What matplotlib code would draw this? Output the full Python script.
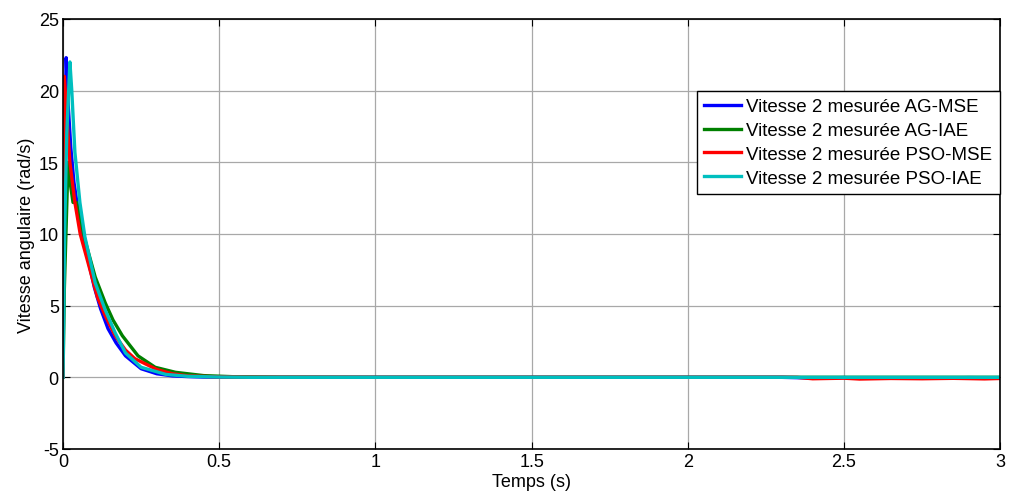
import matplotlib.pyplot as plt

plt.rcParams["font.family"] = ["Liberation Sans", "DejaVu Sans"]
plt.rcParams["axes.unicode_minus"] = False

# Vitesse 2 mesuree - AG-MSE
t_ag_mse = [0, 0.004, 0.01, 0.016, 0.025, 0.035, 0.05, 0.07, 0.1, 0.12, 0.144, 0.17, 0.2,
            0.25, 0.3, 0.35, 0.4, 0.45, 0.5, 0.6, 1.0, 2.3, 2.4, 2.5, 2.6, 2.7, 2.8, 2.9, 3.0]
v_ag_mse = [0, 12, 22.3, 19.2, 16.0, 13.6, 11.4, 9.2, 6.3, 4.8, 3.4, 2.4, 1.5,
            0.6, 0.25, 0.1, 0.05, 0.02, 0.01, 0.0, 0.0, 0.0, -0.05, -0.02, -0.06, -0.03, -0.05, -0.02, -0.04]

# Vitesse 2 mesuree - AG-IAE
t_ag_iae = [0, 0.004, 0.016, 0.024, 0.032, 0.043, 0.055, 0.07, 0.103, 0.135, 0.16, 0.19,
            0.24, 0.295, 0.36, 0.45, 0.55, 0.7, 1.0, 3.0]
v_ag_iae = [0, 6, 15.0, 13.4, 12.2, 12.2, 11.0, 9.6, 7.0, 5.2, 4.0, 2.9,
            1.5, 0.7, 0.35, 0.12, 0.04, 0.01, 0.0, 0.0]

# Vitesse 2 mesuree - PSO-MSE
t_pso_mse = [0, 0.004, 0.01, 0.022, 0.038, 0.055, 0.07, 0.08, 0.11, 0.135, 0.167, 0.2, 0.23,
             0.3, 0.35, 0.4, 0.5, 0.6, 1.0, 2.35, 2.4, 2.5, 2.55, 2.65, 2.75, 2.85, 2.95, 3.0]
v_pso_mse = [0, 21.0, 19.0, 15.0, 12.2, 10.0, 8.8, 8.0, 5.6, 4.3, 2.9, 1.9, 1.3,
             0.55, 0.25, 0.1, 0.03, 0.01, 0.0, 0.0, -0.1, -0.06, -0.12, -0.08, -0.1, -0.07, -0.11, -0.08]

# Vitesse 2 mesuree - PSO-IAE
t_pso_iae = [0, 0.005, 0.012, 0.022, 0.028, 0.038, 0.054, 0.07, 0.103, 0.135, 0.167, 0.2,
             0.25, 0.33, 0.4, 0.5, 0.6, 1.0, 3.0]
v_pso_iae = [0, 10, 17, 22.0, 20.0, 15.7, 12.2, 9.8, 6.6, 4.7, 3.1, 1.7,
             0.7, 0.2, 0.07, 0.02, 0.0, 0.0, 0.0]

labels = ["Vitesse 2 mesurée AG-MSE", "Vitesse 2 mesurée AG-IAE",
          "Vitesse 2 mesurée PSO-MSE", "Vitesse 2 mesurée PSO-IAE"]
colors = ["#0000ff", "#008000", "#ff0000", "#00bfbf"]

fig = plt.figure(figsize=(10.10, 5.02), dpi=100)
ax = fig.add_axes([0.0624, 0.1036, 0.9278, 0.8566])

series = [(t_ag_mse, v_ag_mse), (t_ag_iae, v_ag_iae), (t_pso_mse, v_pso_mse), (t_pso_iae, v_pso_iae)]
for (t, v), lab, col in zip(series, labels, colors):
    ax.plot(t, v, color=col, linewidth=2.4, label=lab)

ax.set_xlim(0, 3)
ax.set_ylim(-5, 25)
ax.set_xticks([0, 0.5, 1, 1.5, 2, 2.5, 3])
ax.set_xticklabels(["0", "0.5", "1", "1.5", "2", "2.5", "3"])
ax.set_yticks(range(-5, 26, 5))
ax.tick_params(direction="in", top=True, right=True, labelsize=13, length=5, pad=3)
ax.grid(True, color="#a8a8a8", linewidth=0.9)
for s in ax.spines.values():
    s.set_linewidth(1.2)
ax.set_xlabel("Temps (s)", fontsize=13, labelpad=2)
ax.set_ylabel("Vitesse angulaire (rad/s)", fontsize=13, labelpad=3)

leg = ax.legend(loc="upper right", bbox_to_anchor=(0.9995, 0.8326), fontsize=13.5,
                fancybox=False, framealpha=1, edgecolor="black", borderaxespad=0,
                handlelength=1.95, handletextpad=0.3, labelspacing=0.36, borderpad=0.38)
leg.get_frame().set_linewidth(1.0)

fig.savefig("out.png", dpi=100)
